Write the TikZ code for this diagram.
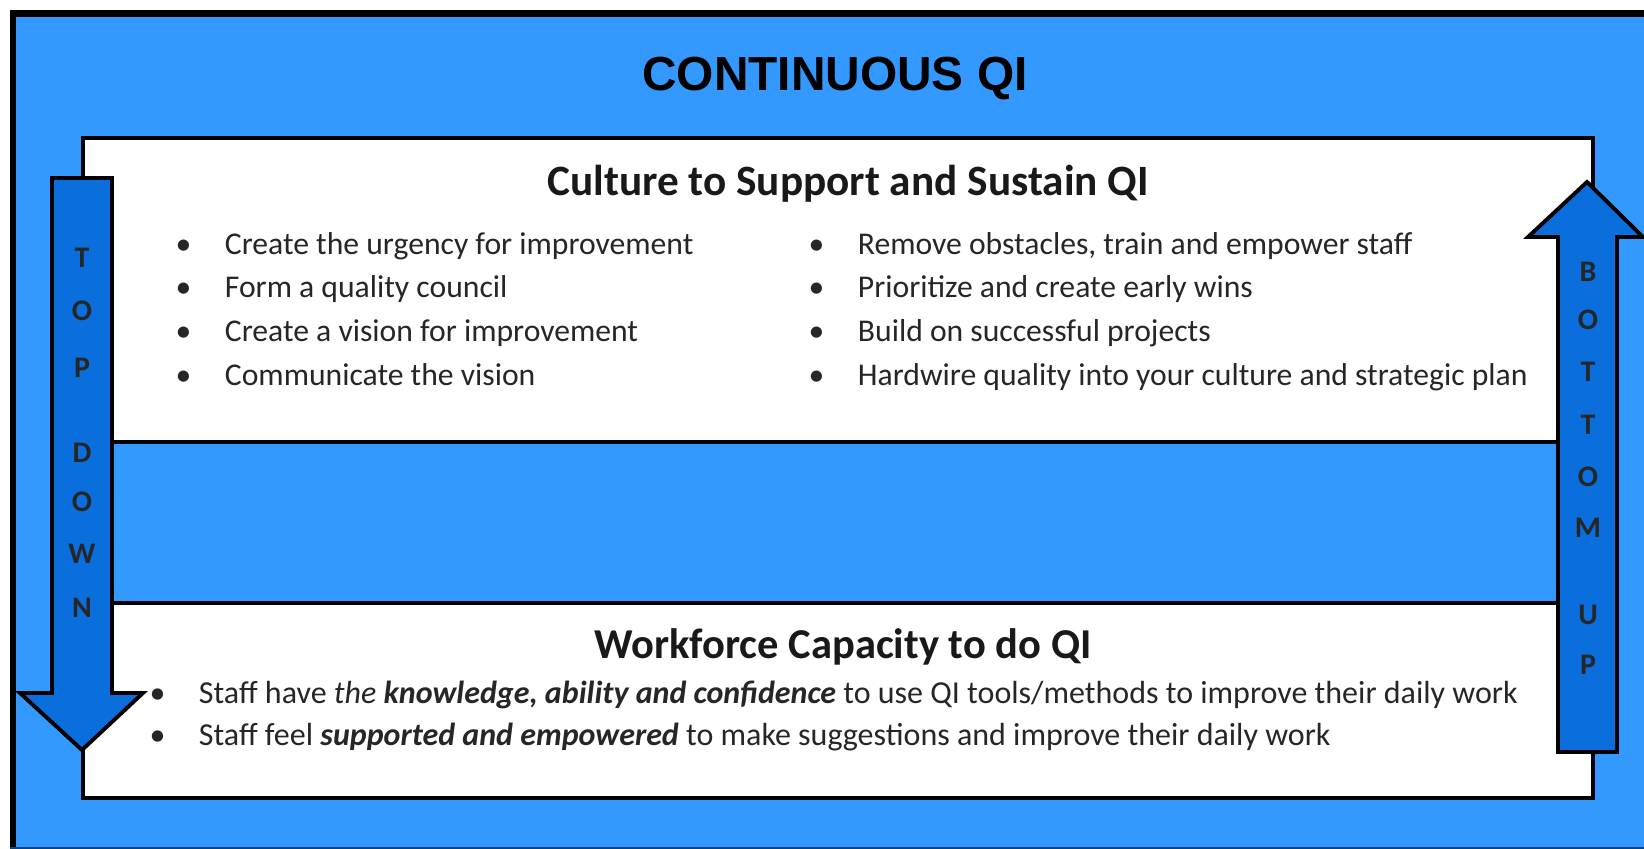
\documentclass[tikz,border=0pt]{standalone}
\usepackage{fontspec}
\setmainfont{Carlito}
\newfontfamily\titlefont{Liberation Sans}
\definecolor{skyblue}{HTML}{3399FF}
\definecolor{arrowblue}{HTML}{0A6EDC}
\tikzset{
  panel/.style={draw=black, line width=1.4pt, fill=white},
  updown/.style={draw=black, line width=1.1pt, fill=arrowblue, line join=miter},
  heading/.style={anchor=base, inner sep=0pt, font=\fontsize{12.3}{14}\selectfont\bfseries, text=black!90},
  item/.style={anchor=base west, inner sep=0pt, font=\fontsize{9}{11}\selectfont, text=black!85},
  letter/.style={inner sep=0pt, font=\fontsize{8.5}{10}\selectfont\bfseries, text=black!85},
}
\newcommand\bul{\makebox[14pt][l]{\textbullet}}
\begin{document}
\begin{tikzpicture}[x=0.01cm, y=-0.01cm]
\useasboundingbox (0,0) rectangle (1644,849);
% Frame
\fill[white] (0,0) rectangle (1644,849);
\fill[skyblue] (10,10) rectangle (1644,849);
\draw[line width=1.9pt] (13,849) -- (13,13.5) -- (1644,13.5);
\draw[arrowblue!60!black, line width=0.5pt] (10,848) -- (1644,848);
\node[font=\titlefont\fontsize{13.6}{16}\selectfont\bfseries] (title) at (835,79) {CONTINUOUS QI};

% Panels
\draw[panel] (83,138) rectangle (1593,442);
\draw[panel] (83,603) rectangle (1593,798);

% Top panel: culture
\node[heading] (culture) at (848,196) {Culture to Support and Sustain QI};
\node[item] (urgency) at (175,255) {\bul Create the urgency for improvement};
\node[item] (council) at (175,298) {\bul Form a quality council};
\node[item] (vision) at (175,342) {\bul Create a vision for improvement};
\node[item] (communicate) at (175,386) {\bul Communicate the vision};
\node[item] (obstacles) at (808,255) {\bul Remove obstacles, train and empower staff};
\node[item] (wins) at (808,298) {\bul Prioritize and create early wins};
\node[item] (projects) at (808,342) {\bul Build on successful projects};
\node[item] (hardwire) at (808,386) {\bul Hardwire quality into your culture and strategic plan};

% Bottom panel: workforce
\node[heading, font=\fontsize{12.1}{14}\selectfont\bfseries] (workforce) at (843,659) {Workforce Capacity to do QI};
\node[item, font=\fontsize{9.1}{11}\selectfont] (knowledge) at (149,704) {\bul Staff have \textit{the} \textbf{\textit{knowledge, ability and confidence}} to use QI tools/methods to improve their daily work};
\node[item, font=\fontsize{9.1}{11}\selectfont] (supported) at (149,746) {\bul Staff feel \textbf{\textit{supported and empowered}} to make suggestions and improve their daily work};

% Top down arrow
\draw[updown] (52,178) -- (112,178) -- (112,693) -- (143,693) -- (82,750) -- (20,693) -- (52,693) -- cycle;
\node[letter] (td-t) at (82,258) {T};
\node[letter] (td-o) at (82,311) {O};
\node[letter] (td-p) at (82,368) {P};
\node[letter] (td-d) at (82,453) {D};
\node[letter] (td-o2) at (82,502) {O};
\node[letter] (td-w) at (82,554) {W};
\node[letter] (td-n) at (82,608) {N};

% Bottom up arrow
\draw[updown] (1558,752) -- (1558,237) -- (1528,237) -- (1587,182) -- (1643,237) -- (1617,237) -- (1617,752) -- cycle;
\node[letter] (bu-b) at (1588,272) {B};
\node[letter] (bu-o) at (1588,320) {O};
\node[letter] (bu-t) at (1588,372) {T};
\node[letter] (bu-t2) at (1588,425) {T};
\node[letter] (bu-o2) at (1588,477) {O};
\node[letter] (bu-m) at (1588,528) {M};
\node[letter] (bu-u) at (1588,615) {U};
\node[letter] (bu-p) at (1588,665) {P};
\end{tikzpicture}
\end{document}
